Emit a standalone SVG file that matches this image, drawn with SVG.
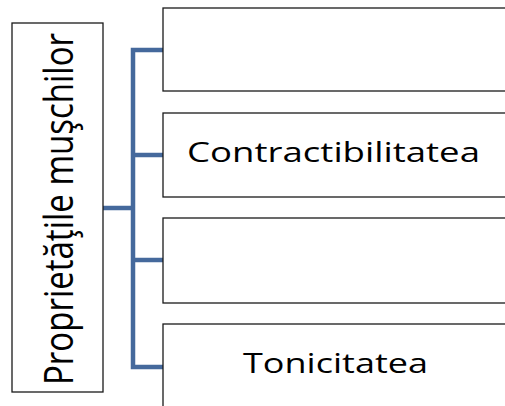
<svg xmlns="http://www.w3.org/2000/svg" width="505" height="406" viewBox="0 0 505 406">
<style>
.box{fill:#fff;stroke:#1a1a1a;stroke-width:1.3}
.lbl{font-family:"Open Sans","Liberation Sans",sans-serif;fill:#000}
.conn{fill:none;stroke:#45699c;stroke-width:4.5;stroke-linejoin:miter}
</style>
<rect width="505" height="406" fill="#fff"/>
<g id="conns">
<path class="conn" d="M103,208 H133"/>
<path class="conn" d="M163,50 H133 V367 H163"/>
<path class="conn" d="M133,155 H163"/>
<path class="conn" d="M133,260 H163"/>
</g>
<g id="root">
<rect class="box" x="12" y="23" width="91" height="369"/>
<text class="lbl" transform="translate(73,209) rotate(-90)" text-anchor="middle" font-size="40" textLength="352" lengthAdjust="spacingAndGlyphs">Proprietăţile muşchilor</text>
</g>
<g id="n1">
<rect class="box" x="163" y="8" width="400" height="83"/>
</g>
<g id="n2">
<rect class="box" x="163" y="113" width="400" height="84"/>
<text class="lbl" x="187" y="162" font-size="27.3" textLength="293" lengthAdjust="spacingAndGlyphs">Contractibilitatea</text>
</g>
<g id="n3">
<rect class="box" x="163" y="218" width="400" height="85"/>
</g>
<g id="n4">
<rect class="box" x="163" y="324" width="400" height="100"/>
<text class="lbl" x="243" y="373" font-size="27.3" textLength="185" lengthAdjust="spacingAndGlyphs">Tonicitatea</text>
</g>
</svg>
